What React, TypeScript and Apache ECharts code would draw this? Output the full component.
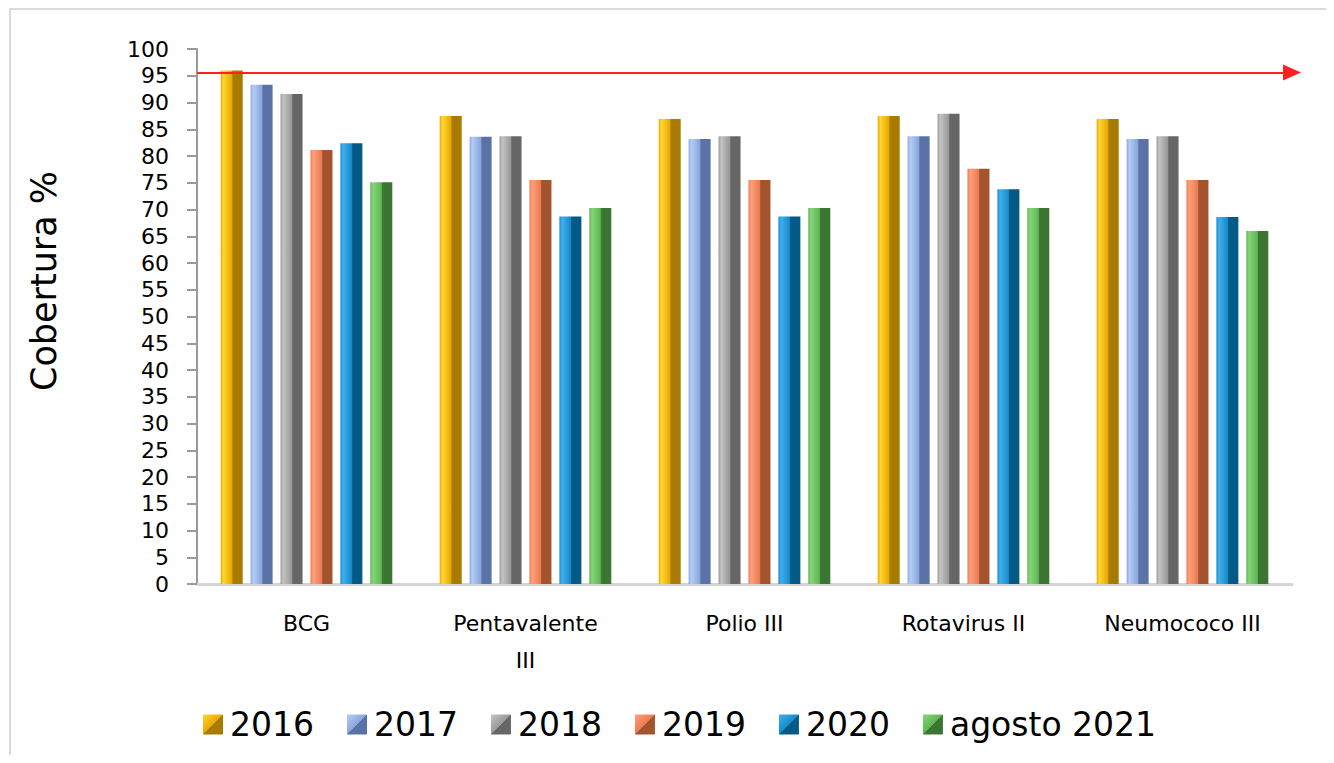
import React, { useEffect, useRef } from "react";
import * as echarts from "echarts";

const categories = ["BCG", "Pentavalente\nIII", "Polio III", "Rotavirus II", "Neumococo III"];
const seriesNames = ["2016", "2017", "2018", "2019", "2020", "agosto 2021"];
const v2016 = [96.0, 87.5, 86.9, 87.5, 86.9];
const v2017 = [93.3, 83.6, 83.2, 83.7, 83.2];
const v2018 = [91.6, 83.7, 83.7, 87.9, 83.7];
const v2019 = [81.1, 75.5, 75.5, 77.6, 75.5];
const v2020 = [82.4, 68.7, 68.7, 73.8, 68.6];
const v2021 = [75.1, 70.3, 70.3, 70.3, 66.0];
const target = 95.6;
const yTitle = "Cobertura %";

const palettes = [
  ["#e8a900", "#ffd633", "#a87a00"],
  ["#8aa6de", "#b4cdf5", "#5a72a6"],
  ["#999999", "#c4c4c4", "#666666"],
  ["#ea7c52", "#ffa07a", "#a4532f"],
  ["#1a8bcb", "#3fb0ec", "#045a86"],
  ["#5fb553", "#86d67a", "#3a7632"],
];

const grad = (p: string[]) =>
  new echarts.graphic.LinearGradient(0, 0, 1, 0, [
    { offset: 0, color: p[0] },
    { offset: 0.12, color: p[1] },
    { offset: 0.5, color: p[0] },
    { offset: 0.56, color: p[2] },
    { offset: 1, color: p[2] },
  ]);

const diag = (p: string[]) =>
  new echarts.graphic.LinearGradient(0, 0, 1, 1, [
    { offset: 0, color: p[1] },
    { offset: 0.5, color: p[0] },
    { offset: 0.5, color: p[2] },
    { offset: 1, color: p[2] },
  ]);

export default function App() {
  const ref = useRef<HTMLDivElement>(null);
  useEffect(() => {
    if (!ref.current) return;
    const chart = echarts.init(ref.current, null, { renderer: "svg" });
    const values = [v2016, v2017, v2018, v2019, v2020, v2021];
    const font = "DejaVu Sans";
    const series: any[] = values.map((vals, i) => ({
      name: seriesNames[i],
      type: "bar",
      data: vals,
      barWidth: 22,
      barGap: "36%",
      itemStyle: { color: grad(palettes[i]) },
    }));
    series[0].markLine = {
      silent: true,
      symbol: ["none", "triangle"],
      symbolSize: [16, 18],
      label: { show: false },
      lineStyle: { color: "#ff2020", width: 2, type: "solid" },
      data: [{ yAxis: target }],
    };
    chart.setOption({
      animation: false,
      backgroundColor: "#ffffff",
      textStyle: { fontFamily: font },
      graphic: [
        {
          type: "polyline",
          shape: { points: [[10, 763], [10, 9], [1332, 9], [1332, 763]] },
          style: { fill: "none", stroke: "#dadada", lineWidth: 2 },
          silent: true,
        },
        {
          type: "text",
          x: 44,
          y: 281,
          rotation: Math.PI / 2,
          style: {
            text: yTitle,
            fontSize: 35,
            fontFamily: font,
            fill: "#000",
            align: "center",
            verticalAlign: "middle",
          },
          silent: true,
        },
      ],
      grid: { left: 197, right: 42, top: 49, bottom: 179 },
      legend: {
        top: 703,
        left: 198,
        itemWidth: 20,
        itemHeight: 20,
        itemGap: 33,
        textStyle: { fontSize: 33, color: "#000", fontFamily: font, padding: [0, 0, 0, 2] },
        data: seriesNames.map((n, i) => ({ name: n, icon: "rect", itemStyle: { color: diag(palettes[i]) } })),
      },
      xAxis: {
        type: "category",
        data: categories,
        axisLine: { lineStyle: { color: "#d4d4d4", width: 3 } },
        axisTick: { show: false },
        axisLabel: {
          color: "#000",
          fontSize: 22,
          fontFamily: font,
          margin: 21,
          lineHeight: 37,
          interval: 0,
        },
      },
      yAxis: {
        type: "value",
        min: 0,
        max: 100,
        interval: 5,
        axisLine: { show: true, lineStyle: { color: "#9a9a9a", width: 2 } },
        axisTick: { show: true, inside: false, length: 10, lineStyle: { color: "#9a9a9a", width: 2 } },
        splitLine: { show: false },
        axisLabel: { color: "#000", fontSize: 22, fontFamily: font, margin: 28 },
      },
      series,
    });
    return () => chart.dispose();
  }, []);
  return <div ref={ref} style={{ width: 1334, height: 763, margin: -8 }} />;
}
